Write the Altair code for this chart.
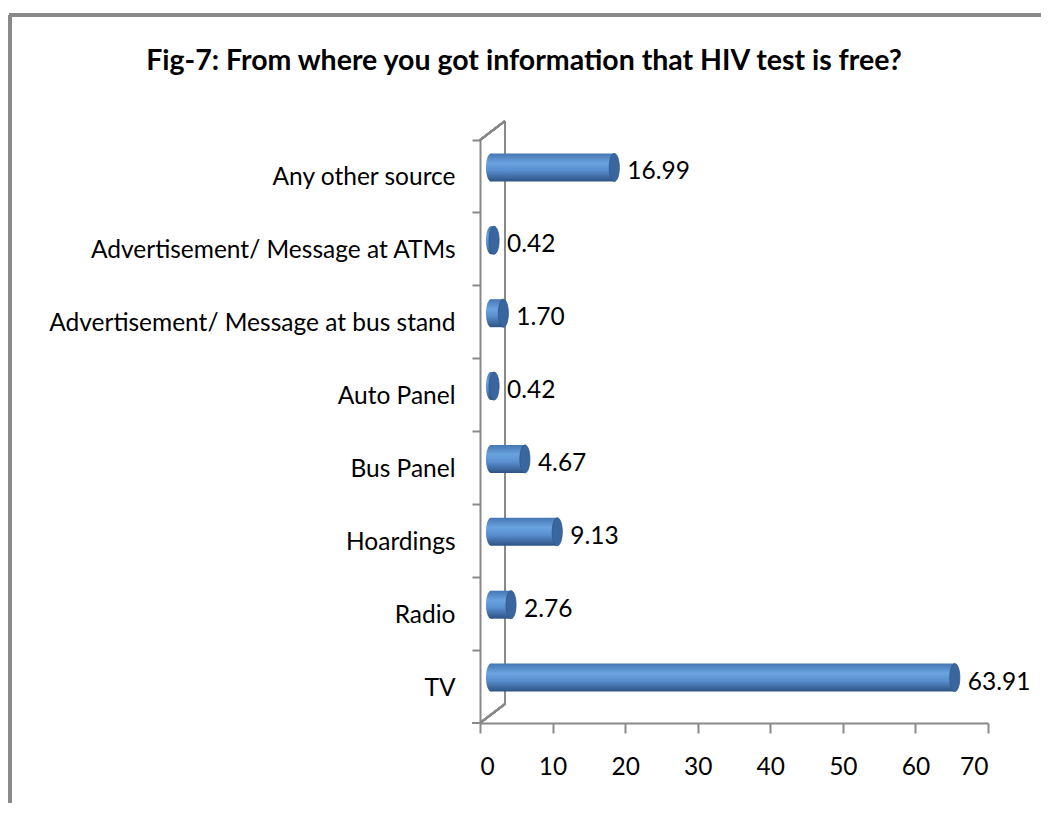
import altair as alt
import pandas as pd

categories = ["Any other source", "Advertisement/ Message at ATMs",
              "Advertisement/ Message at bus stand", "Auto Panel", "Bus Panel",
              "Hoardings", "Radio", "TV"]
values = [16.99, 0.42, 1.70, 0.42, 4.67, 9.13, 2.76, 63.91]
x_ticks = [0, 10, 20, 30, 40, 50, 60, 70]
title_text = "Fig-7: From where you got information that HIV test is free?"

df = pd.DataFrame({"source": categories, "value": values, "zero": [0] * len(values)})

W, H = 508, 583
FONT = "Lato"
FS = 24.5
GRAY = "#898989"
DX, DY = 11, -9
BAR_H = 28

grad = alt.Gradient(
    gradient="linear", x1=0, x2=0, y1=0, y2=1,
    stops=[alt.GradientStop(offset=0, color="#4676b4"),
           alt.GradientStop(offset=0.35, color="#6aa3e0"),
           alt.GradientStop(offset=0.6, color="#5a8fd0"),
           alt.GradientStop(offset=1, color="#2e5384")])

ycat = alt.Y("source:N", sort=categories,
             scale=alt.Scale(paddingInner=0, paddingOuter=0),
             axis=alt.Axis(title=None, bandPosition=0, tickSize=8, labelPadding=17,
                           labelFontSize=FS, labelFont=FONT, labelColor="#000000",
                           domainColor=GRAY, tickColor=GRAY, domainWidth=2, tickWidth=2,
                           labelLimit=600, labelOffset=2))
xq = alt.X("value:Q", scale=alt.Scale(domain=[0, 70], nice=False),
           axis=alt.Axis(title=None, values=x_ticks, tickSize=10, labelPadding=22,
                         labelFontSize=FS, labelFont=FONT, labelColor="#000000",
                         domainColor=GRAY, tickColor=GRAY, domainWidth=2, tickWidth=2,
                         grid=False))

base = alt.Chart(df)

wall = base.mark_rule(color=GRAY, strokeWidth=2).encode(
    x=alt.value(25), y=alt.value(-19), y2=alt.value(H - 19))
diag_top = base.mark_rule(color=GRAY, strokeWidth=2).encode(
    x=alt.value(0), x2=alt.value(25), y=alt.value(0), y2=alt.value(-19))
diag_bot = base.mark_rule(color=GRAY, strokeWidth=2).encode(
    x=alt.value(0), x2=alt.value(25), y=alt.value(H), y2=alt.value(H - 19))
bottom_tick = base.mark_rule(color=GRAY, strokeWidth=2).encode(
    x=alt.value(-8), x2=alt.value(0), y=alt.value(H))
frame_left = base.mark_rule(color=GRAY, strokeWidth=3).encode(
    x=alt.value(-470), y=alt.value(-125), y2=alt.value(720))
frame_top = base.mark_rule(color=GRAY, strokeWidth=3).encode(
    x=alt.value(-471), x2=alt.value(600), y=alt.value(-125))

ellipse = "M-0.36,0 A0.36,1 0 1,0 0.36,0 A0.36,1 0 1,0 -0.36,0 Z"

left_cap = base.mark_point(shape=ellipse, size=BAR_H * BAR_H, filled=True, fill=grad,
                           opacity=1, xOffset=DX, yOffset=DY, strokeWidth=0).encode(
    x=alt.X("zero:Q"), y=ycat)
bars = base.mark_bar(height=BAR_H, fill=grad, xOffset=DX, x2Offset=DX,
                     yOffset=DY, y2Offset=DY).encode(
    x=xq, x2=alt.X2("zero:Q"), y=ycat)
right_cap = base.mark_point(shape=ellipse, size=BAR_H * BAR_H, filled=True,
                            fill="#3a66a0", opacity=1, stroke="#2f5586", strokeWidth=0.8,
                            xOffset=DX, yOffset=DY).encode(
    x="value:Q", y=ycat)
labels = base.mark_text(align="left", baseline="middle", dx=24, dy=-4, fontSize=FS,
                        font=FONT, color="#000000").encode(
    x="value:Q", y=ycat, text=alt.Text("value:Q", format=".2f"))

chart = alt.layer(frame_left, frame_top, wall, diag_top, diag_bot, bottom_tick,
                  bars, left_cap, right_cap, labels).properties(
    width=W, height=H,
    title=alt.TitleParams(title_text, font=FONT, fontSize=28.5, fontWeight="bold",
                          color="#000000", anchor="middle", frame="group",
                          dx=-210, offset=-62),
    autosize=alt.AutoSizeParams(type="none"),
    padding={"left": 472, "top": 132, "right": 53, "bottom": 80},
).configure_view(stroke=None)

chart.save("out.html", embed_options={"renderer": "svg", "actions": False})
